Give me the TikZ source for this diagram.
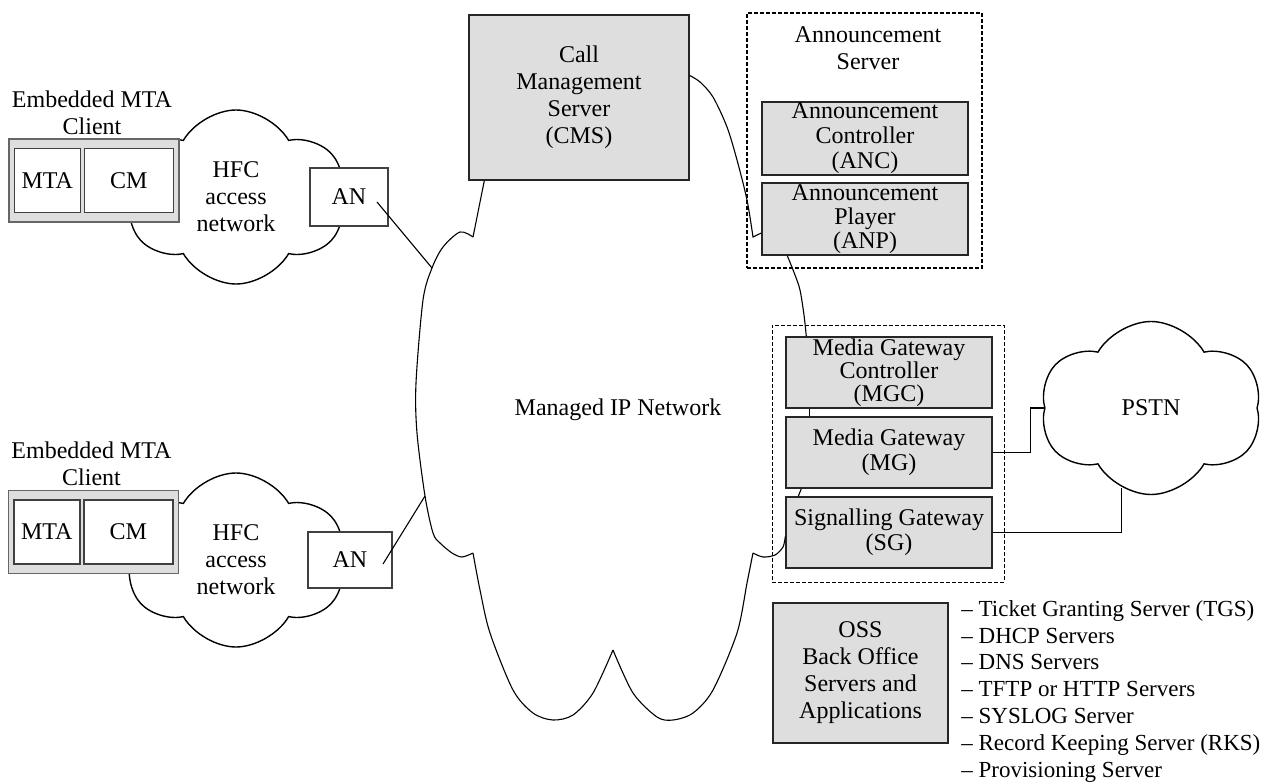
\documentclass[tikz,border=0pt]{standalone}
\usepackage{fontspec}
\setmainfont{Liberation Serif}
\usetikzlibrary{calc}
\usetikzlibrary{shapes.symbols}
\tikzset{
	% boxes: grey servers, white boxes, dotted frames and clouds
	grey box/.style={draw=black!85,fill=black!13,line width=0.7pt,align=center,inner sep=0},
	white box/.style={draw=black!75,fill=white,line width=0.7pt,align=center,inner sep=0},
	client box/.style={draw=black!60,fill=black!13,line width=0.7pt,inner sep=0},
	group frame/.style={draw,dash pattern=on 2pt off 1pt,line width=0.7pt,inner sep=0},
	net cloud/.style={cloud,cloud puffs=6,cloud puff arc=120,cloud ignores aspect,draw,fill=white,line width=0.7pt,align=center,inner sep=0},
	link/.style={line width=0.55pt}
}

\begin{document}
\begin{tikzpicture}[x=0.5pt,y=-0.5pt,font=\fontsize{12}{13.5}\selectfont]
	% macro for an embedded MTA client: #1 name suffix, #2 centre of the box
	\newcommand{\mtaclient}[2]{
		\node(client-#1)[client box,minimum width=85pt,minimum height=41.5pt] at (#2){};
		\node(mta-#1)[white box,minimum width=33pt,minimum height=32pt] at ($(client-#1.west)+(39,0)$){MTA};
		\node(cm-#1)[white box,minimum width=44.5pt,minimum height=32pt] at ($(client-#1.west)+(120.5,0)$){CM};
		\node(label-#1)[align=center] at ($(client-#1.north)+(-2,-26)$){Embedded MTA\\Client};
	}
	\useasboundingbox (0,0) rectangle (1265,782);
	
	% access side
	\node(hfc-1)[net cloud,minimum width=110pt,minimum height=87pt] at (236,197){HFC\\access\\network};
	\node(hfc-2)[net cloud,minimum width=110pt,minimum height=87pt] at (236,560){HFC\\access\\network};
	\mtaclient{1}{94,180.5}
	\mtaclient{2}{93.5,532}
	\node(an-1)[white box,minimum width=39pt,minimum height=29pt] at (349,197){AN};
	\node(an-2)[white box,minimum width=42pt,minimum height=28pt] at (350,560){AN};
	
	% servers
	\node(cms)[grey box,minimum width=110pt,minimum height=82.5pt] at (579,97.5){Call\\Management\\Server\\(CMS)};
	\node(ann-frame)[group frame,minimum width=117.5pt,minimum height=127.5pt] at (864.5,140.5){};
	\node(ann-title)[align=center] at (868,48.5){Announcement\\Server};
	\node(anc)[grey box,minimum width=103pt,minimum height=36.5pt,font=\fontsize{12}{12.5}\selectfont] at (865,138.5){Announcement\\Controller\\(ANC)};
	\node(anp)[grey box,minimum width=103pt,minimum height=36pt,font=\fontsize{12}{12}\selectfont] at (865,219){Announcement\\Player\\(ANP)};
	
	% gateways
	\node(gw-frame)[group frame,line width=0.5pt,minimum width=116pt,minimum height=128.5pt] at (888,453.5){};
	\node(mgc)[grey box,minimum width=103pt,minimum height=35.5pt,font=\fontsize{12}{11.5}\selectfont] at (889,372.5){Media Gateway\\Controller\\(MGC)};
	\node(mg)[grey box,minimum width=103pt,minimum height=35.5pt,font=\fontsize{12}{12.5}\selectfont] at (889,452.5){Media Gateway\\(MG)};
	\node(sg)[grey box,minimum width=103pt,minimum height=35.5pt,font=\fontsize{12}{12.5}\selectfont] at (889,532.5){Signalling Gateway\\(SG)};
	\node(pstn)[net cloud,minimum width=110.5pt,minimum height=86.5pt] at (1151,408){PSTN};
	
	% back office
	\node(oss)[grey box,minimum width=87.5pt,minimum height=70pt] at (860.5,673){OSS\\Back Office\\Servers and\\Applications};
	\node(oss-list)[anchor=north west,align=left,inner sep=0,font=\fontsize{11.5}{13.4}\selectfont] at (961,600){– Ticket Granting Server (TGS)\\– DHCP Servers\\– DNS Servers\\– TFTP or HTTP Servers\\– SYSLOG Server\\– Record Keeping Server (RKS)\\– Provisioning Server};
	
	% Managed IP network, drawn piece by piece between the boxes
	\node(ip-net) at (618,410){Managed IP Network};
	\coordinate (ip-a) at (432,268);
	\coordinate (ip-b) at (425,496);
	\draw[link] ($(cms.south west)+(16,0)$) -- (473,237);
	\draw[link] plot[smooth] coordinates{(473,237) (460,232) (443,247) (ip-a) (423,300) (416,383) (417,433) (ip-b) (433,533) (440,543) (452,553) (462,557) (473,553)};
	\draw[link] plot[smooth] coordinates{(473,553) (480,590) (490,633) (513,690) (533,713) (553,720) (573,715) (593,693) (613,650)};
	\draw[link] plot[smooth] coordinates{(613,650) (633,693) (657,717) (673,720) (693,713) (713,690) (737,633) (747,583) (753,553)};
	\draw[link] plot[smooth] coordinates{(753,553) (763,557) (775,555) (783,547) ($(sg.west)+(0,4)$)};
	\draw[link] plot[smooth] coordinates{($(cms.east)+(0,-22)$) (700,82) (713,97) (727,127) (737,160) (747,200) (753,237)} -- ($(anp.west)+(0,14)$);
	\draw[link] plot[smooth] coordinates{($(anp.south west)+(26,0)$) (795,275) (800,290) (804,315) ($(mgc.north west)+(21,0)$)};
	\draw[link] ($(mgc.south west)+(24,0)$) -- ($(mg.north west)+(24,0)$);
	\draw[link] ($(mg.south west)+(16,0)$) -- ($(sg.north west)+(13,0)$);
	
	% access links
	\draw[link] ($(an-1.center)+(28,5)$) -- (ip-a);
	\draw[link] ($(an-2.center)+(33,4)$) -- (ip-b);
	
	% PSTN links
	\draw[link] (mg.east) -| ($(pstn.west)+(-14,0)$) -- (pstn.west);
	\draw[link] (sg.east) -| (pstn.250);
\end{tikzpicture}
\end{document}
